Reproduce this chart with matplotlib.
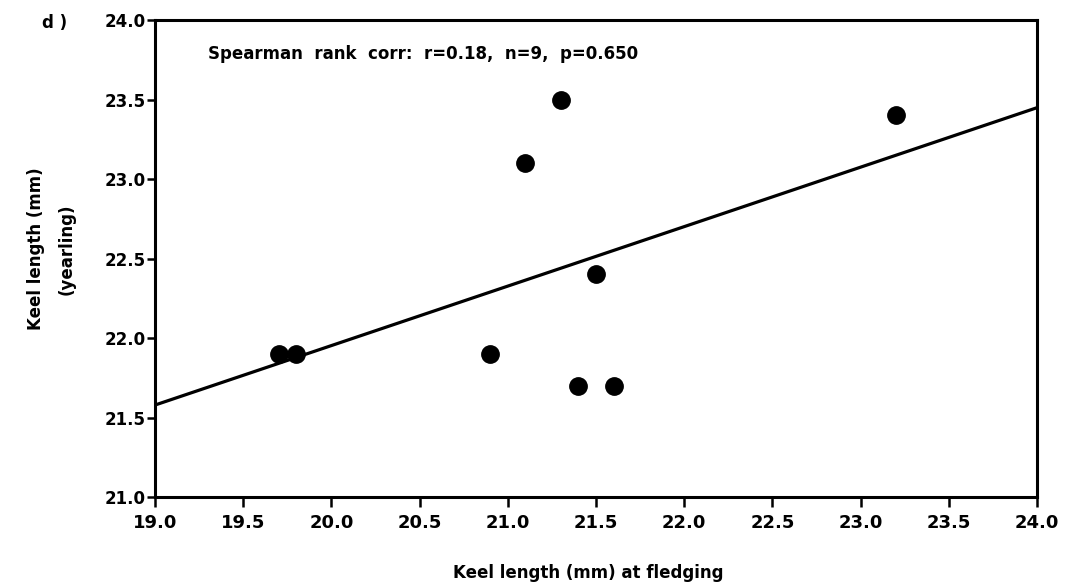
import numpy as np
import matplotlib
matplotlib.use("Agg")
import matplotlib.pyplot as plt

# keel length measurements (mm)
fledging = [19.7, 19.8, 20.9, 21.1, 21.3, 21.4, 21.5, 21.6, 23.2]
yearling = [21.9, 21.9, 21.9, 23.1, 23.5, 21.7, 22.4, 21.7, 23.4]

xticks = [19.0, 19.5, 20.0, 20.5, 21.0, 21.5, 22.0, 22.5, 23.0, 23.5, 24.0]
yticks = [21.0, 21.5, 22.0, 22.5, 23.0, 23.5, 24.0]

plt.rcParams['font.family'] = 'DejaVu Sans'
plt.rcParams['font.weight'] = 'bold'

fig = plt.figure(figsize=(10.85, 5.85), dpi=100)
ax = fig.add_axes([0.1429, 0.1504, 0.8129, 0.8154])

# least squares fit line across full x range
slope, icpt = np.polyfit(fledging, yearling, 1)
xl = np.array([19.0, 24.0])
ax.plot(xl, slope * xl + icpt, color='black', lw=2.3, solid_capstyle='butt', zorder=2)

ax.plot(fledging, yearling, 'o', color='black', markersize=12.5, zorder=3)

ax.set_xlim(19.0, 24.0)
ax.set_ylim(21.0, 24.0)
ax.set_xticks(xticks)
ax.set_yticks(yticks)
ax.set_xticklabels([f"{v:.1f}" for v in xticks], fontsize=13, fontweight='bold')
ax.set_yticklabels([f"{v:.1f}" for v in yticks], fontsize=12, fontweight='bold')

for s in ax.spines.values():
    s.set_linewidth(2.2)
ax.tick_params(axis='x', direction='out', length=7, width=1.8, pad=5)
ax.tick_params(axis='y', direction='out', length=6, width=1.8, pad=1)

ax.set_xlabel("Keel length (mm) at fledging", fontsize=12, fontweight='bold')
ax.xaxis.set_label_coords(0.491, -0.14)
ax.set_ylabel("Keel length (mm)\n(yearling)", fontsize=12, fontweight='bold', linespacing=1.9)
ax.yaxis.set_label_coords(-0.09, 0.52)

ax.text(0.06, 0.929, "Spearman  rank  corr:  r=0.18,  n=9,  p=0.650",
        transform=ax.transAxes, fontsize=12, fontweight='bold', va='center', ha='left')

fig.text(42 / 1085, 1 - 23 / 585, "d )", fontsize=12, fontweight='bold', va='center', ha='left')

fig.savefig("out.png", dpi=100)
